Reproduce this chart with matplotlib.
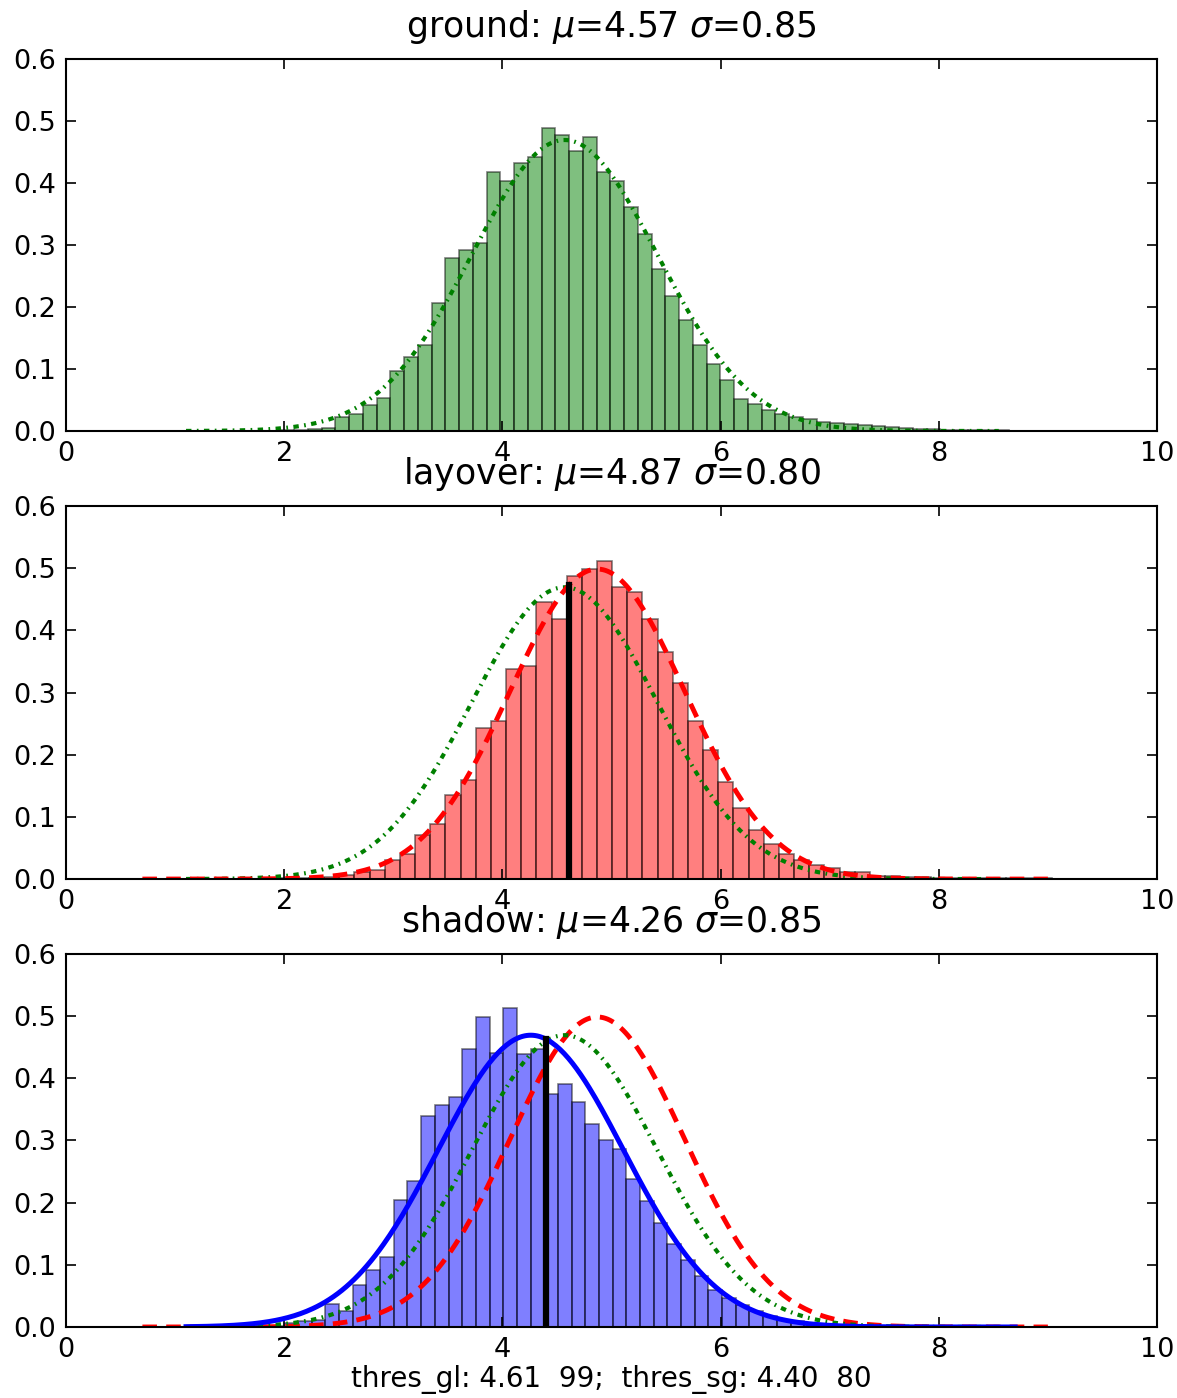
import numpy as np
import matplotlib
matplotlib.use("Agg")
import matplotlib.pyplot as plt

# class statistics (mean / std of the fitted normals)
names = ["ground", "layover", "shadow"]
mus = [4.57, 4.87, 4.26]
sigmas = [0.85, 0.80, 0.85]
colors = ["g", "r", "b"]

# normalised histograms: first bin edge, bin width, heights
ground_start, ground_width = 1.966, 0.126
ground_heights = [0.002, 0.002, 0.004, 0.005, 0.022, 0.027, 0.042, 0.054, 0.096, 0.119,
                  0.138, 0.207, 0.279, 0.292, 0.304, 0.418, 0.403, 0.432, 0.442, 0.488,
                  0.477, 0.452, 0.474, 0.418, 0.403, 0.361, 0.318, 0.261, 0.218, 0.179,
                  0.139, 0.108, 0.082, 0.051, 0.043, 0.034, 0.028, 0.023, 0.020, 0.014,
                  0.013, 0.011, 0.010, 0.008, 0.006, 0.005, 0.004, 0.003, 0.002, 0.002,
                  0.001, 0.001, 0.001]

layover_start, layover_width = 1.948, 0.139
layover_heights = [0.001, 0.002, 0.002, 0.003, 0.006, 0.012, 0.014, 0.031, 0.040, 0.071,
                   0.088, 0.135, 0.159, 0.243, 0.254, 0.338, 0.343, 0.445, 0.419, 0.487,
                   0.498, 0.512, 0.470, 0.462, 0.419, 0.366, 0.315, 0.254, 0.207, 0.156,
                   0.114, 0.079, 0.056, 0.040, 0.031, 0.023, 0.017, 0.012, 0.012, 0.005,
                   0.005, 0.003, 0.003, 0.002, 0.002, 0.002, 0.001, 0.001, 0.001, 0.001,
                   0.001]

shadow_start, shadow_width = 1.625, 0.1254
shadow_heights = [0.001, 0.001, 0.002, 0.007, 0.009, 0.011, 0.037, 0.025, 0.068, 0.091,
                  0.113, 0.204, 0.235, 0.340, 0.357, 0.370, 0.447, 0.499, 0.440, 0.513,
                  0.439, 0.447, 0.374, 0.391, 0.362, 0.326, 0.301, 0.286, 0.238, 0.202,
                  0.167, 0.133, 0.108, 0.082, 0.060, 0.047, 0.035, 0.025, 0.017, 0.012,
                  0.009, 0.006, 0.004, 0.003, 0.002, 0.002, 0.001, 0.001, 0.001, 0.001]

# x span of the samples each fitted curve is drawn over
curve_spans = {"ground": (1.1, 8.55), "layover": (0.7, 9.0), "shadow": (1.1, 8.7)}

thres_gl, thres_sg = 4.61, 4.40
score_gl, score_sg = 99, 80

line_styles = {"ground": dict(ls=(0, (1.3, 1.3, 0.4, 1.3)), lw=3.0),
               "layover": dict(ls=(0, (3.0, 1.9)), lw=3.5),
               "shadow": dict(ls="-", lw=3.6)}


def gauss(x, mu, sigma):
    return np.exp(-(x - mu) ** 2 / (2 * sigma ** 2)) / (sigma * np.sqrt(2 * np.pi))


def draw_curve(ax, name):
    i = names.index(name)
    lo, hi = curve_spans[name]
    x = np.linspace(lo, hi, 400)
    ax.plot(x, gauss(x, mus[i], sigmas[i]), color=colors[i], **line_styles[name])


def draw_hist(ax, start, width, heights, color):
    edges = start + width * np.arange(len(heights))
    ax.bar(edges, heights, width=width, align="edge", color=color, alpha=0.5,
           edgecolor="k", linewidth=1.2)


def style_axis(ax, title):
    ax.set_xlim(0, 10)
    ax.set_ylim(0, 0.6)
    ax.set_xticks(range(0, 11, 2))
    ax.set_yticks(np.arange(0, 0.61, 0.1))
    ax.yaxis.set_major_formatter(matplotlib.ticker.FormatStrFormatter("%.1f"))
    ax.tick_params(direction="in", top=True, right=True, length=7, width=1.2,
                   labelsize=19.5, pad=7)
    for s in ax.spines.values():
        s.set_linewidth(1.5)
    ax.set_title(title, fontsize=25, pad=16)


fig = plt.figure(figsize=(11.77, 13.98), dpi=100)
left, width = 0.0561, 0.9269
ax1 = fig.add_axes([left, 0.6917, width, 0.2661])
ax2 = fig.add_axes([left, 0.3712, width, 0.2668])
ax3 = fig.add_axes([left, 0.0508, width, 0.2668])

titles = [r"%s: $\mu$=%.2f $\sigma$=%.2f" % (n, m, s) for n, m, s in zip(names, mus, sigmas)]

# ground
draw_hist(ax1, ground_start, ground_width, ground_heights, "g")
draw_curve(ax1, "ground")
style_axis(ax1, titles[0])

# layover with ground/layover threshold
draw_hist(ax2, layover_start, layover_width, layover_heights, "r")
draw_curve(ax2, "ground")
draw_curve(ax2, "layover")
top_gl = max(gauss(thres_gl, mus[0], sigmas[0]), gauss(thres_gl, mus[1], sigmas[1]))
ax2.plot([thres_gl, thres_gl], [0, top_gl], color="k", lw=4.5)
style_axis(ax2, titles[1])

# shadow with shadow/ground threshold
draw_hist(ax3, shadow_start, shadow_width, shadow_heights, "b")
draw_curve(ax3, "layover")
draw_curve(ax3, "ground")
draw_curve(ax3, "shadow")
top_sg = max(gauss(thres_sg, mus[2], sigmas[2]), gauss(thres_sg, mus[0], sigmas[0]))
ax3.plot([thres_sg, thres_sg], [0, top_sg], color="k", lw=4.5)
style_axis(ax3, titles[2])
ax3.set_xlabel("thres_gl: %.2f  %d;  thres_sg: %.2f  %d" % (thres_gl, score_gl, thres_sg, score_sg),
               fontsize=20, labelpad=2)

fig.savefig("out.png", dpi=100, facecolor="white")
